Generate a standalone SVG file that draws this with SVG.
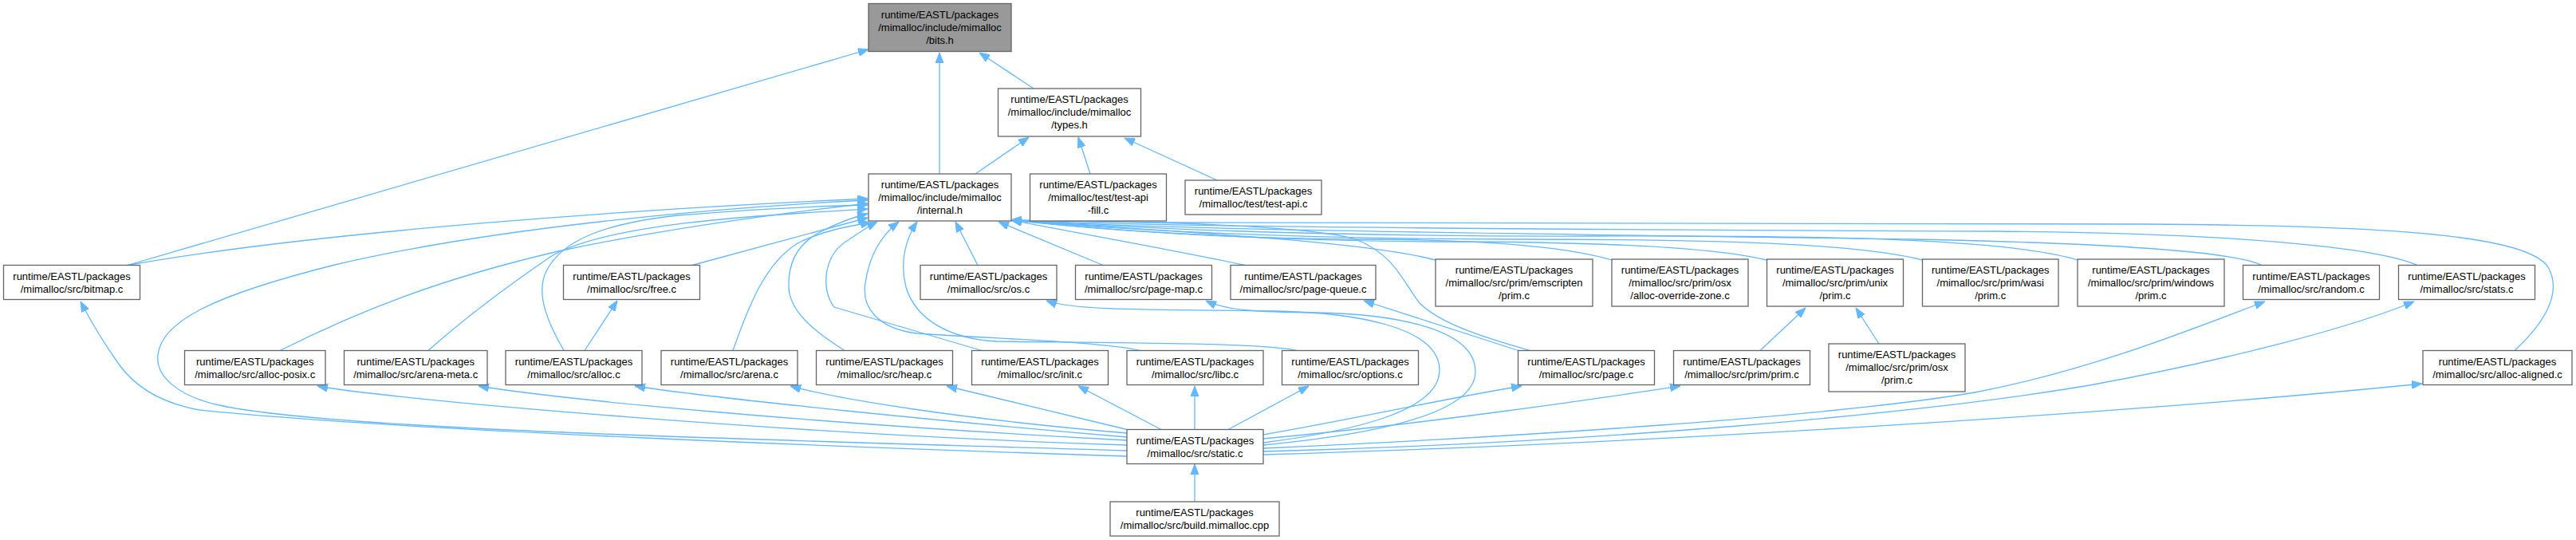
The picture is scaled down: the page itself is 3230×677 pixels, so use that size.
<svg xmlns="http://www.w3.org/2000/svg" width="3230" height="677" viewBox="0 0 3230 677">
<style>
.n rect{fill:#fff;stroke:#666;stroke-width:1.3}
.n.cur rect{fill:#999}
.n text{font-family:"Liberation Sans",Arial,sans-serif;font-size:13px;fill:#000;text-anchor:middle}
.e path{fill:none;stroke:#63b8ff;stroke-width:1.3;marker-end:url(#ah)}
</style>
<defs>
<marker id="ah" viewBox="0 0 13 10" refX="13" refY="5" markerWidth="13" markerHeight="10" markerUnits="userSpaceOnUse" orient="auto">
<path d="M0,0 L13,5 L0,10 z" fill="#63b8ff" stroke="#63b8ff" stroke-width="1"/>
</marker>
</defs>
<rect width="3230" height="677" fill="#fff"/>
<g id="edges" class="e">
<path d="M1296,111 L1228,66"/>
<path d="M1178,218 L1178,66"/>
<path d="M160,332.5 L1089,62"/>
<path d="M1223,218 L1290,172"/>
<path d="M1367,218 L1352,172"/>
<path d="M1526,226 L1410,173"/>
<path d="M733,439.5 L774,377"/>
<path d="M1904,439.5 L1710,377"/>
<path d="M2207,439.5 L2264,386"/>
<path d="M2356,431 L2327,386"/>
<path d="M1498,629 L1498,582"/>
<path d="M160,332.5 C400,290 800,262 1088,249"/>
<path d="M1413,565 C1000,552 420,540 275,508 C220,496 195,470 198,445 C202,405 260,372 420,332 C620,285 900,260 1088,251"/>
<path d="M351,439.5 C450,390 550,350 700,315 C850,283 1000,265 1088,255"/>
<path d="M537,439.5 C570,410 620,370 690,322 C760,280 950,270 1088,262"/>
<path d="M707,439.5 C690,410 670,370 685,340 C705,300 760,280 850,270 C950,262 1040,258 1088,257"/>
<path d="M868,332.5 L1088,273"/>
<path d="M919,439.5 C940,380 960,330 1000,305 C1030,290 1060,284 1092,279"/>
<path d="M1059,439.5 C1020,415 990,390 989,360 C988,330 1000,305 1030,290 C1050,280 1070,272 1088,268"/>
<path d="M1231,439.5 L1046,385 C1030,365 1030,320 1065,300 C1080,290 1090,283 1100,278"/>
<path d="M1430,439.5 C1380,428 1250,425 1150,418 C1100,412 1080,385 1085,355 C1090,320 1105,295 1127,278"/>
<path d="M1626,439.5 C1590,430 1420,430 1250,428 C1190,425 1148,400 1136,360 C1128,330 1135,300 1150,278"/>
<path d="M1226,332.5 L1198,278"/>
<path d="M1383,332.5 L1252,278"/>
<path d="M1561,332.5 C1480,315 1350,292 1268,276"/>
<path d="M1800,326 C1700,300 1450,290 1268,276"/>
<path d="M1918,439.5 C1880,428 1810,410 1780,380 C1760,355 1750,320 1700,300 C1650,285 1500,278 1268,276"/>
<path d="M2021,326 C1950,305 1820,300 1700,300 C1500,298 1350,285 1268,276"/>
<path d="M2215,326 C2150,310 2000,303 1800,303 C1550,302 1350,285 1268,276"/>
<path d="M2411,326 C2330,305 2150,300 1900,300 C1600,300 1380,286 1268,276"/>
<path d="M2605,326 C2520,300 2300,295 2000,296 C1650,297 1400,285 1268,276"/>
<path d="M2836,332.5 C2800,315 2650,305 2400,300 C1900,293 1450,288 1268,276"/>
<path d="M3031,332.5 C2980,310 2800,292 2500,290 C2000,288 1450,285 1268,276"/>
<path d="M3153,439.5 C3185,410 3215,370 3195,335 C3170,295 3000,283 2690,281 L1500,279 C1400,279 1320,277 1268,276"/>
<path d="M1413,572 C1100,562 500,540 250,514 C200,505 170,485 150,458 C130,430 115,405 101,378"/>
<path d="M1413,558 C1000,545 500,502 398,484"/>
<path d="M1413,552 C1000,530 700,500 600,484"/>
<path d="M1413,548 C1200,530 900,500 796,484"/>
<path d="M1413,543 C1200,525 1050,500 991,484"/>
<path d="M1413,538.5 L1187,484"/>
<path d="M1456,538.5 L1352,484"/>
<path d="M1498,538.5 L1498,484"/>
<path d="M1540,538.5 L1641,484"/>
<path d="M1584,545 C1700,525 1820,498 1908,484"/>
<path d="M1584,550 C1800,530 2000,500 2107,484"/>
<path d="M1584,555 C1700,540 1805,515 1805,464 C1805,410 1700,392 1600,390 C1450,388 1350,390 1312,377"/>
<path d="M1584,558 C1720,545 1850,520 1850,466 C1850,415 1760,394 1650,392 C1580,391 1540,390 1512,377"/>
<path d="M1584,562 C1900,548 2300,522 2476,492 C2620,465 2750,412 2840,378"/>
<path d="M1584,566 C2000,555 2400,520 2620,483 C2800,450 2950,410 3027,378"/>
<path d="M1584,570 C2100,555 2700,515 3037,481"/>
</g>
<g id="bits_h" class="n cur"><rect x="1089" y="4.5" width="179" height="60"/><text x="1178.5" y="22.5">runtime/EASTL/packages</text><text x="1178.5" y="38.5">/mimalloc/include/mimalloc</text><text x="1178.5" y="54.5">/bits.h</text></g>
<g id="types_h" class="n"><rect x="1251.5" y="111" width="179" height="60"/><text x="1341" y="129">runtime/EASTL/packages</text><text x="1341" y="145">/mimalloc/include/mimalloc</text><text x="1341" y="161">/types.h</text></g>
<g id="internal_h" class="n"><rect x="1089" y="218" width="179" height="59"/><text x="1178.5" y="236">runtime/EASTL/packages</text><text x="1178.5" y="252">/mimalloc/include/mimalloc</text><text x="1178.5" y="268">/internal.h</text></g>
<g id="test_api_fill" class="n"><rect x="1291.5" y="218" width="171" height="59"/><text x="1377" y="236">runtime/EASTL/packages</text><text x="1377" y="252">/mimalloc/test/test-api</text><text x="1377" y="268">-fill.c</text></g>
<g id="test_api" class="n"><rect x="1486" y="226" width="171" height="43"/><text x="1571.5" y="244">runtime/EASTL/packages</text><text x="1571.5" y="260">/mimalloc/test/test-api.c</text></g>
<g id="bitmap_c" class="n"><rect x="4.5" y="332.5" width="171" height="43"/><text x="90" y="350.5">runtime/EASTL/packages</text><text x="90" y="366.5">/mimalloc/src/bitmap.c</text></g>
<g id="free_c" class="n"><rect x="706.5" y="332.5" width="171" height="43"/><text x="792" y="350.5">runtime/EASTL/packages</text><text x="792" y="366.5">/mimalloc/src/free.c</text></g>
<g id="os_c" class="n"><rect x="1154" y="332.5" width="171" height="43"/><text x="1239.5" y="350.5">runtime/EASTL/packages</text><text x="1239.5" y="366.5">/mimalloc/src/os.c</text></g>
<g id="page_map_c" class="n"><rect x="1348.5" y="332.5" width="171" height="43"/><text x="1434" y="350.5">runtime/EASTL/packages</text><text x="1434" y="366.5">/mimalloc/src/page-map.c</text></g>
<g id="page_queue_c" class="n"><rect x="1543" y="332.5" width="182" height="43"/><text x="1634" y="350.5">runtime/EASTL/packages</text><text x="1634" y="366.5">/mimalloc/src/page-queue.c</text></g>
<g id="emscripten_prim_c" class="n"><rect x="1800" y="325" width="197" height="59"/><text x="1898.5" y="343">runtime/EASTL/packages</text><text x="1898.5" y="359">/mimalloc/src/prim/emscripten</text><text x="1898.5" y="375">/prim.c</text></g>
<g id="alloc_override_zone_c" class="n"><rect x="2021" y="325" width="171" height="59"/><text x="2106.5" y="343">runtime/EASTL/packages</text><text x="2106.5" y="359">/mimalloc/src/prim/osx</text><text x="2106.5" y="375">/alloc-override-zone.c</text></g>
<g id="unix_prim_c" class="n"><rect x="2215.5" y="325" width="171" height="59"/><text x="2301" y="343">runtime/EASTL/packages</text><text x="2301" y="359">/mimalloc/src/prim/unix</text><text x="2301" y="375">/prim.c</text></g>
<g id="wasi_prim_c" class="n"><rect x="2410.5" y="325" width="170.5" height="59"/><text x="2495.7" y="343">runtime/EASTL/packages</text><text x="2495.7" y="359">/mimalloc/src/prim/wasi</text><text x="2495.7" y="375">/prim.c</text></g>
<g id="windows_prim_c" class="n"><rect x="2605" y="325" width="184" height="59"/><text x="2697" y="343">runtime/EASTL/packages</text><text x="2697" y="359">/mimalloc/src/prim/windows</text><text x="2697" y="375">/prim.c</text></g>
<g id="random_c" class="n"><rect x="2812.5" y="332.5" width="171" height="43"/><text x="2898" y="350.5">runtime/EASTL/packages</text><text x="2898" y="366.5">/mimalloc/src/random.c</text></g>
<g id="stats_c" class="n"><rect x="3007.5" y="332.5" width="171" height="43"/><text x="3093" y="350.5">runtime/EASTL/packages</text><text x="3093" y="366.5">/mimalloc/src/stats.c</text></g>
<g id="alloc_posix_c" class="n"><rect x="231.5" y="439.5" width="176.5" height="43"/><text x="319.7" y="457.5">runtime/EASTL/packages</text><text x="319.7" y="473.5">/mimalloc/src/alloc-posix.c</text></g>
<g id="arena_meta_c" class="n"><rect x="431.5" y="439.5" width="179.5" height="43"/><text x="521.2" y="457.5">runtime/EASTL/packages</text><text x="521.2" y="473.5">/mimalloc/src/arena-meta.c</text></g>
<g id="alloc_c" class="n"><rect x="634" y="439.5" width="171" height="43"/><text x="719.5" y="457.5">runtime/EASTL/packages</text><text x="719.5" y="473.5">/mimalloc/src/alloc.c</text></g>
<g id="arena_c" class="n"><rect x="829" y="439.5" width="171" height="43"/><text x="914.5" y="457.5">runtime/EASTL/packages</text><text x="914.5" y="473.5">/mimalloc/src/arena.c</text></g>
<g id="heap_c" class="n"><rect x="1023.5" y="439.5" width="171" height="43"/><text x="1109" y="457.5">runtime/EASTL/packages</text><text x="1109" y="473.5">/mimalloc/src/heap.c</text></g>
<g id="init_c" class="n"><rect x="1218.5" y="439.5" width="171" height="43"/><text x="1304" y="457.5">runtime/EASTL/packages</text><text x="1304" y="473.5">/mimalloc/src/init.c</text></g>
<g id="libc_c" class="n"><rect x="1413" y="439.5" width="171" height="43"/><text x="1498.5" y="457.5">runtime/EASTL/packages</text><text x="1498.5" y="473.5">/mimalloc/src/libc.c</text></g>
<g id="options_c" class="n"><rect x="1607.5" y="439.5" width="171" height="43"/><text x="1693" y="457.5">runtime/EASTL/packages</text><text x="1693" y="473.5">/mimalloc/src/options.c</text></g>
<g id="page_c" class="n"><rect x="1903.5" y="439.5" width="171" height="43"/><text x="1989" y="457.5">runtime/EASTL/packages</text><text x="1989" y="473.5">/mimalloc/src/page.c</text></g>
<g id="prim_prim_c" class="n"><rect x="2098.5" y="439.5" width="171" height="43"/><text x="2184" y="457.5">runtime/EASTL/packages</text><text x="2184" y="473.5">/mimalloc/src/prim/prim.c</text></g>
<g id="osx_prim_c" class="n"><rect x="2293" y="431" width="171" height="60"/><text x="2378.5" y="449">runtime/EASTL/packages</text><text x="2378.5" y="465">/mimalloc/src/prim/osx</text><text x="2378.5" y="481">/prim.c</text></g>
<g id="alloc_aligned_c" class="n"><rect x="3038" y="439.5" width="187" height="43"/><text x="3131.5" y="457.5">runtime/EASTL/packages</text><text x="3131.5" y="473.5">/mimalloc/src/alloc-aligned.c</text></g>
<g id="static_c" class="n"><rect x="1413" y="538.5" width="171" height="43"/><text x="1498.5" y="556.5">runtime/EASTL/packages</text><text x="1498.5" y="572.5">/mimalloc/src/static.c</text></g>
<g id="build_mimalloc_cpp" class="n"><rect x="1392" y="629" width="212" height="43"/><text x="1498" y="647">runtime/EASTL/packages</text><text x="1498" y="663">/mimalloc/src/build.mimalloc.cpp</text></g>
</svg>
